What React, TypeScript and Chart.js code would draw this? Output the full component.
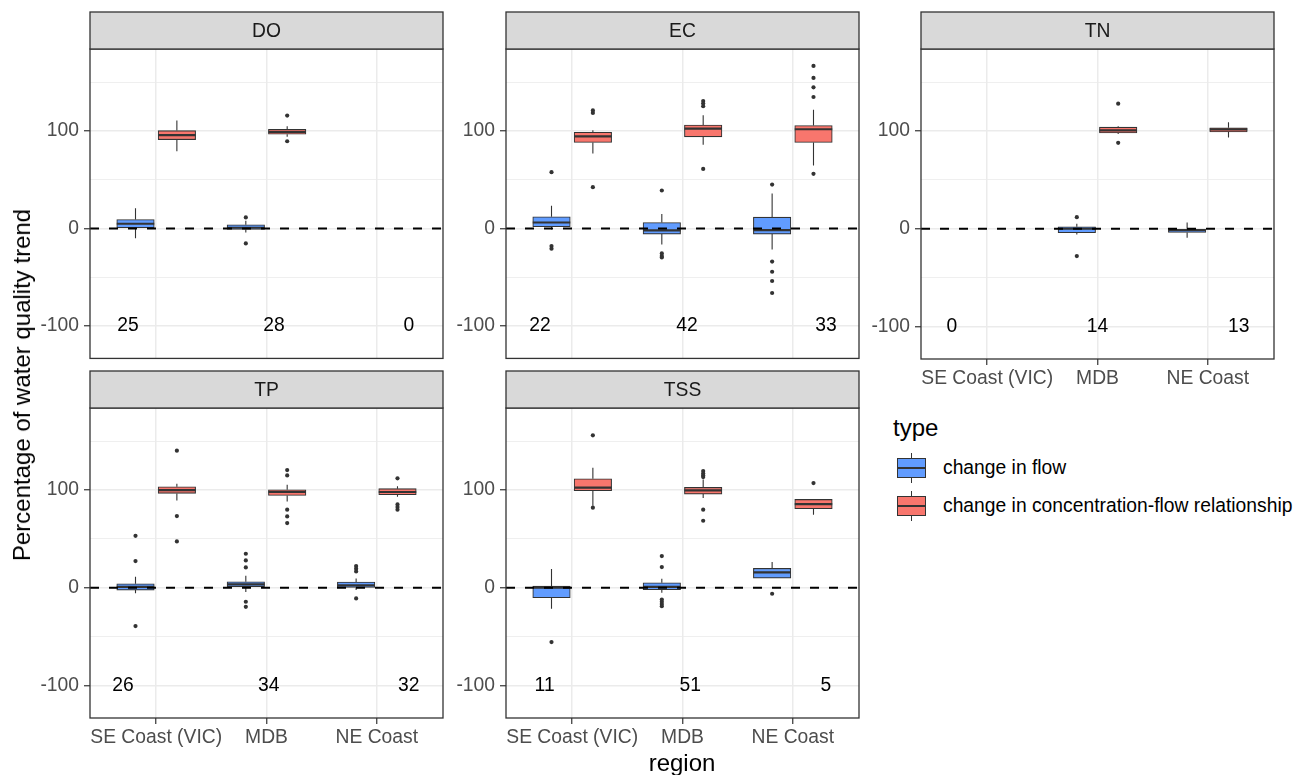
import React, { useEffect, useRef } from 'react';
import { Chart, registerables } from 'chart.js';

Chart.register(...registerables);

// ---------- data ----------
const REGIONS = ['SE Coast (VIC)', 'MDB', 'NE Coast'];
const TYPE_LABELS = ['change in flow', 'change in concentration-flow relationship'];
const Y_TICKS = [-100, -50, 0, 50, 100, 150];
const COUNT_Y = -100;

// box stats per region: [lower whisker, q1, median, q3, upper whisker]
const doFlow = [[-10, 0, 4.8, 9.2, 20.8], [-4.1, -1, 0.7, 3.8, 7.8], null];
const doFlowOut = [[], [11.3, -15.4], []];
const doConc = [[79.2, 91.1, 95.6, 100.3, 110.6], [93.9, 96.6, 99, 101.7, 104.8], null];
const doConcOut = [[], [115.7, 89.4], []];
const doCounts = [25, 28, 0];
const doCountX = [0.744, 2.067, 3.29];

const ecFlow = [[-1, 1.7, 6.1, 11.9, 23.2], [-16.4, -5.8, -2, 6.1, 14.7], [-21.5, -5.8, -1.7, 11.6, 35.8]];
const ecFlowOut = [[57.7, -18, -20.8], [38.9, -25.6, -28.3, -29.7], [45, -34, -44.4, -53.9, -66.2]];
const ecConc = [[76.8, 88.1, 94.5, 98.6, 100.7], [85.7, 93.9, 102.4, 106, 116], [64.5, 88.1, 101.7, 105.5, 121.8]];
const ecConcOut = [[121, 118.4, 42.3], [130.7, 128, 125.3, 61], [166.6, 154.3, 144.7, 134.8, 56]];
const ecCounts = [22, 42, 33];
const ecCountX = [0.708, 2.04, 3.3];

const tnFlow = [null, [-5.8, -4.1, 0, 2, 5.1], [-9.2, -3.8, -1.4, 0, 6.5]];
const tnFlowOut = [[], [11.9, -28], []];
const tnConc = [null, [97, 98, 100.7, 104, 105], [93.5, 99, 101.7, 103.4, 108.9]];
const tnConcOut = [[], [128, 88], []];
const tnCounts = [0, 14, 13];
const tnCountX = [0.68, 2.0, 3.28];

const tpFlow = [[-5.5, -2.4, 1, 4.1, 11.3], [-4.4, 1, 3.4, 6.1, 12.3], [-2.4, 0.3, 2.4, 5.8, 9.6]];
const tpFlowOut = [[53.2, 27.3, -39.2], [34.8, 28, 20.8, -14.3, -19.5], [22.2, 19.5, 16.7, -10.9]];
const tpConc = [[89.4, 96.6, 100, 103.4, 106.5], [88.4, 94.5, 98, 100.3, 105.5], [93.2, 95.2, 98, 101.4, 103.8]];
const tpConcOut = [[140.3, 73.4, 47.4], [120.5, 115, 79.9, 73, 66.2], [112, 85.3, 82.6, 79.9]];
const tpCounts = [26, 34, 32];
const tpCountX = [0.7, 2.02, 3.29];

const tssFlow = [[-21.5, -10.2, 0, 1.7, 19.1], [-5.1, -2, 1, 5.1, 9.2], [9.9, 9.9, 15.7, 19.8, 26.3]];
const tssFlowOut = [[-55.6], [32.4, 21.2, -12, -14.3, -16.7, -18.8], [-6.1]];
const tssConc = [[84, 99.3, 102.4, 111.6, 122.9], [91.8, 95.9, 99.7, 102.7, 110.9], [74.7, 80.9, 85.7, 90.4, 90.4]];
const tssConcOut = [[156, 82], [119.5, 117, 115, 113.3, 79.9, 68.6], [107.2]];
const tssCounts = [11, 51, 5];
const tssCountX = [0.75, 2.07, 3.3];

const PANELS = [
  { title: 'DO', flow: doFlow, flowOut: doFlowOut, conc: doConc, concOut: doConcOut, counts: doCounts, countX: doCountX },
  { title: 'EC', flow: ecFlow, flowOut: ecFlowOut, conc: ecConc, concOut: ecConcOut, counts: ecCounts, countX: ecCountX },
  { title: 'TN', flow: tnFlow, flowOut: tnFlowOut, conc: tnConc, concOut: tnConcOut, counts: tnCounts, countX: tnCountX },
  { title: 'TP', flow: tpFlow, flowOut: tpFlowOut, conc: tpConc, concOut: tpConcOut, counts: tpCounts, countX: tpCountX },
  { title: 'TSS', flow: tssFlow, flowOut: tssFlowOut, conc: tssConc, concOut: tssConcOut, counts: tssCounts, countX: tssCountX },
];

// ---------- layout / style ----------
const COLORS = ['#619CFF', '#F8766D'];
const LINE = '#333333';
const FONT = '"Liberation Sans", Arial, Helvetica, sans-serif';
const FS = 19.3;
const TITLE_FS = 24;
const AX = 60;
const PW = 353;
const PH = 310;
const STRIP = 37;
const TOPPAD = 40;
const XAX = 34;
const XAX_HIDDEN = 14;
const X_MIN = 0.4;
const X_MAX = 3.6;
const Y_MIN = -133.3;
const Y_MAX = 184;
const DODGE = 0.1875;
const BOX_UNITS = 0.34;
const POS = [
  { left: 90, top: 49, showX: false },
  { left: 506, top: 49, showX: false },
  { left: 921, top: 49, showX: true },
  { left: 90, top: 408, showX: true },
  { left: 506, top: 408, showX: true },
];

const decoPlugin = {
  id: 'panelDeco',
  afterDatasetsDraw(chart: any, _args: any, opts: any) {
    const { ctx, chartArea, scales } = chart;
    ctx.save();
    // count labels
    ctx.font = `${FS}px ${FONT}`;
    ctx.fillStyle = '#000000';
    ctx.textAlign = 'center';
    ctx.textBaseline = 'middle';
    (opts.counts as number[]).forEach((c, i) => {
      ctx.fillText(String(c), scales.x.getPixelForValue(opts.countX[i]), scales.y.getPixelForValue(COUNT_Y));
    });
    // panel border
    ctx.strokeStyle = LINE;
    ctx.lineWidth = 1.3;
    ctx.strokeRect(chartArea.left, chartArea.top, chartArea.right - chartArea.left, chartArea.bottom - chartArea.top);
    // strip
    const st = chartArea.top - STRIP;
    ctx.fillStyle = '#D9D9D9';
    ctx.fillRect(chartArea.left, st, chartArea.right - chartArea.left, STRIP);
    ctx.strokeRect(chartArea.left, st, chartArea.right - chartArea.left, STRIP);
    ctx.fillStyle = '#1A1A1A';
    ctx.font = `${FS}px ${FONT}`;
    ctx.fillText(opts.title, (chartArea.left + chartArea.right) / 2, st + STRIP / 2 + 1);
    ctx.restore();
  },
};

function buildDatasets(p: any, pxPerUnit: number) {
  const ds: any[] = [];
  const groups = [
    { stats: p.flow, outs: p.flowOut, off: -DODGE, color: COLORS[0] },
    { stats: p.conc, outs: p.concOut, off: DODGE, color: COLORS[1] },
  ];
  const hw = BOX_UNITS / 2;
  groups.forEach((g) => {
    const boxes: any[] = [];
    const whisk: any[] = [];
    const med: any[] = [];
    const pts: any[] = [];
    (g.stats as (number[] | null)[]).forEach((s, i) => {
      const x = i + 1 + g.off;
      (g.outs[i] as number[]).forEach((v) => pts.push({ x, y: v }));
      if (!s) return;
      boxes.push({ x, y: [s[1], s[3]] });
      whisk.push({ x, y: s[3] }, { x, y: s[4] }, { x, y: null });
      whisk.push({ x, y: s[0] }, { x, y: s[1] }, { x, y: null });
      med.push({ x: x - hw, y: s[2] }, { x: x + hw, y: s[2] }, { x: x + hw, y: null });
    });
    ds.push({
      type: 'line', data: whisk, borderColor: LINE, borderWidth: 1.1, pointRadius: 0, pointHoverRadius: 0,
      spanGaps: false, order: 5,
    });
    ds.push({
      type: 'bar', data: boxes, backgroundColor: g.color, borderColor: LINE, borderWidth: 1.1,
      borderSkipped: false, grouped: false, barThickness: BOX_UNITS * pxPerUnit, order: 4,
    });
    ds.push({
      type: 'line', data: med, borderColor: LINE, borderWidth: 2.2, pointRadius: 0, pointHoverRadius: 0,
      spanGaps: false, order: 3,
    });
    ds.push({
      type: 'scatter', data: pts, backgroundColor: LINE, borderColor: LINE, borderWidth: 0, pointRadius: 2.1,
      pointHoverRadius: 2.1, order: 2,
    });
  });
  ds.push({
    type: 'line', data: [{ x: X_MIN, y: 0 }, { x: X_MAX, y: 0 }], borderColor: '#000000', borderWidth: 2,
    borderDash: [9, 10], pointRadius: 0, pointHoverRadius: 0, order: 1,
  });
  return ds;
}

function Panel({ p, pos }: { p: any; pos: any }) {
  const ref = useRef<HTMLCanvasElement>(null);
  const xh = pos.showX ? XAX : XAX_HIDDEN;
  const cw = AX + PW + 4;
  const ch = TOPPAD + PH + xh + 2;
  useEffect(() => {
    const pxPerUnit = PW / (X_MAX - X_MIN);
    const chart = new Chart(ref.current as HTMLCanvasElement, {
      type: 'bar',
      data: { datasets: buildDatasets(p, pxPerUnit) as any },
      options: {
        animation: false,
        responsive: false,
        devicePixelRatio: 1,
        events: [],
        layout: { padding: { top: TOPPAD, right: 4, bottom: 2, left: 0 } },
        plugins: {
          legend: { display: false },
          tooltip: { enabled: false },
          panelDeco: { counts: p.counts, countX: p.countX, title: p.title },
        } as any,
        scales: {
          x: {
            type: 'linear',
            min: X_MIN,
            max: X_MAX,
            offset: false,
            afterBuildTicks: (s: any) => { s.ticks = REGIONS.map((_, i) => ({ value: i + 1 })); },
            afterFit: (s: any) => { s.height = xh; },
            border: { display: false },
            grid: {
              offset: false,
              color: '#EBEBEB',
              lineWidth: 1.5,
              drawTicks: pos.showX,
              tickLength: 6,
              tickColor: LINE,
              tickWidth: 1.2,
            },
            ticks: {
              display: pos.showX,
              autoSkip: false,
              maxRotation: 0,
              minRotation: 0,
              padding: 2,
              color: '#4D4D4D',
              font: { family: FONT, size: FS },
              callback: (v: any) => REGIONS[Math.round(Number(v)) - 1] ?? '',
            },
          },
          y: {
            type: 'linear',
            min: Y_MIN,
            max: Y_MAX,
            afterBuildTicks: (s: any) => { s.ticks = Y_TICKS.map((v) => ({ value: v })); },
            afterFit: (s: any) => { s.width = AX; },
            border: { display: false },
            grid: {
              color: '#EBEBEB',
              lineWidth: (c: any) => (c.tick && c.tick.value % 100 === 0 ? 1.5 : 0.8),
              tickLength: 6,
              tickColor: (c: any) => (c.tick && c.tick.value % 100 === 0 ? LINE : 'rgba(0,0,0,0)'),
              tickWidth: 1.2,
            },
            ticks: {
              padding: 5,
              color: '#4D4D4D',
              font: { family: FONT, size: FS },
              callback: (v: any) => (Number(v) % 100 === 0 ? String(v) : ''),
            },
          },
        },
      },
      plugins: [decoPlugin as any],
    });
    return () => chart.destroy();
  }, []);
  return (
    <canvas
      ref={ref}
      width={cw}
      height={ch}
      style={{ position: 'absolute', left: pos.left - AX, top: pos.top - TOPPAD, width: cw, height: ch }}
    />
  );
}

function LegendKey({ top, color }: { top: number; color: string }) {
  return (
    <div style={{ position: 'absolute', left: 897, top, width: 29, height: 30 }}>
      <div style={{ position: 'absolute', left: 14, top: 0, width: 1, height: 30, background: LINE }} />
      <div
        style={{
          position: 'absolute', left: 0, top: 5, width: 27, height: 18, background: color,
          border: `1px solid ${LINE}`,
        }}
      />
      <div style={{ position: 'absolute', left: 1, top: 14, width: 27, height: 2, background: LINE }} />
    </div>
  );
}

export default function App() {
  return (
    <div
      style={{
        position: 'fixed', left: 0, top: 0, width: 1304, height: 775, background: '#FFFFFF',
        fontFamily: FONT, overflow: 'hidden',
      }}
    >
      {PANELS.map((p, i) => (
        <Panel key={p.title} p={p} pos={POS[i]} />
      ))}
      <div
        style={{
          position: 'absolute', left: 22, top: 385, transform: 'translate(-50%, -50%) rotate(-90deg)',
          whiteSpace: 'nowrap', fontSize: TITLE_FS, color: '#000',
        }}
      >
        Percentage of water quality trend
      </div>
      <div
        style={{
          position: 'absolute', left: 682, top: 763, transform: 'translate(-50%, -50%)',
          whiteSpace: 'nowrap', fontSize: TITLE_FS, color: '#000',
        }}
      >
        region
      </div>
      <div style={{ position: 'absolute', left: 893, top: 428, transform: 'translateY(-50%)', fontSize: TITLE_FS, color: '#000' }}>
        type
      </div>
      <LegendKey top={453} color={COLORS[0]} />
      <LegendKey top={491} color={COLORS[1]} />
      <div style={{ position: 'absolute', left: 943, top: 468, transform: 'translateY(-50%)', fontSize: FS, color: '#000', whiteSpace: 'nowrap' }}>
        {TYPE_LABELS[0]}
      </div>
      <div style={{ position: 'absolute', left: 943, top: 506, transform: 'translateY(-50%)', fontSize: FS, color: '#000', whiteSpace: 'nowrap' }}>
        {TYPE_LABELS[1]}
      </div>
    </div>
  );
}
